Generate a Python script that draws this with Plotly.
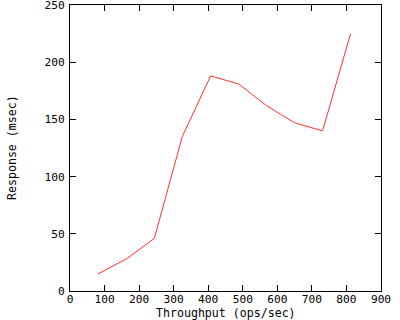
import plotly.graph_objects as go

throughput = [81, 163, 244, 325, 407, 488, 569, 650, 731, 812]
response = [15, 28, 46, 135, 188, 181, 162, 147, 140, 225]

x_ticks = [0, 100, 200, 300, 400, 500, 600, 700, 800, 900]
y_ticks = [0, 50, 100, 150, 200, 250]

x_title = "Throughput (ops/sec)"
y_title = "Response (msec)"

font = dict(family="DejaVu Sans Mono", size=11.6, color="black")
tick_font = dict(family="DejaVu Sans Mono", size=11.2, color="black")

fig = go.Figure()
fig.add_trace(go.Scatter(x=throughput, y=response, mode="lines",
                         line=dict(color="#ff3030", width=1), showlegend=False))

axis_common = dict(showline=True, linecolor="black", linewidth=1, mirror="ticks",
                   ticks="inside", ticklen=6, tickcolor="black", tickwidth=1,
                   showgrid=False, zeroline=False, tickfont=tick_font, automargin=False,
                   ticklabeloverflow="allow")

fig.update_xaxes(range=[0, 900], tickvals=x_ticks, ticktext=[str(v) for v in x_ticks],
                 ticklabelstandoff=-2, **axis_common)
fig.update_yaxes(range=[0, 250], tickvals=y_ticks, ticktext=[str(v) for v in y_ticks],
                 ticklabelstandoff=2, **axis_common)

plot_w = 400 - 70 - 19
plot_h = 320 - 5 - 29
fig.add_annotation(text=x_title, xref="paper", yref="paper", x=0.5,
                   y=-(313.3 - 291) / plot_h, xanchor="center", yanchor="middle",
                   showarrow=False, font=font)
fig.add_annotation(text=y_title, xref="paper", yref="paper", x=(12 - 70) / plot_w,
                   y=0.5, xanchor="center", yanchor="middle", textangle=-90,
                   showarrow=False, font=font)

fig.update_layout(width=400, height=320, margin=dict(l=70, r=19, t=5, b=29),
                  plot_bgcolor="white", paper_bgcolor="white", font=font)

fig.write_html("out.html")
